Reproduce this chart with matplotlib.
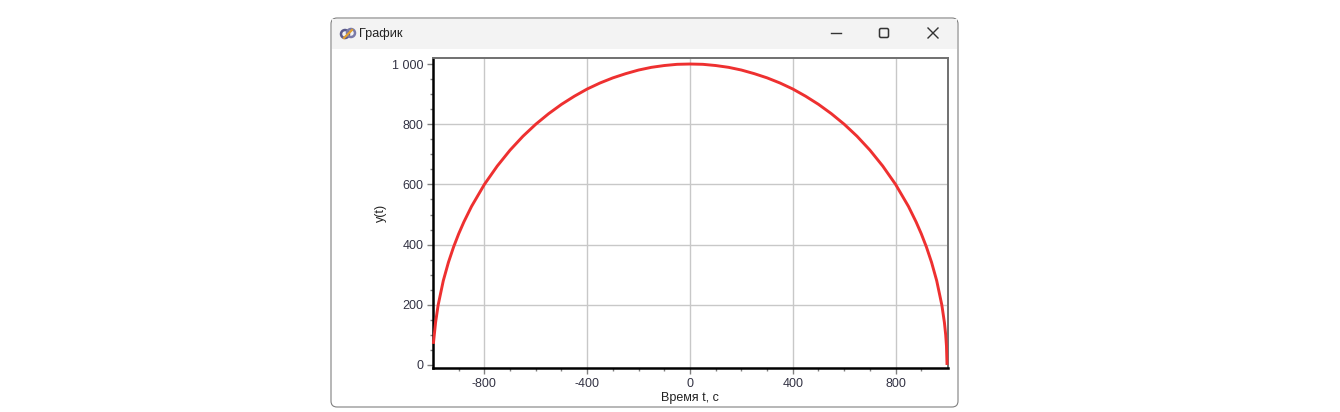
import matplotlib
matplotlib.use("Agg")
import matplotlib.pyplot as plt
from matplotlib.patches import FancyBboxPatch, Rectangle, Ellipse

plt.rcParams['font.family'] = ['Liberation Sans', 'DejaVu Sans']
plt.rcParams['axes.unicode_minus'] = False

W, H = 1340, 412

# values
t_vals = [-998, -995, -990, -980, -960, -940, -920, -900, -880, -850, -800, -750, -700,
          -650, -600, -550, -500, -450, -400, -350, -300, -250, -200, -150, -100, -50, 0,
          50, 100, 150, 200, 250, 300, 350, 400, 450, 500, 550, 600, 650, 700, 750, 800,
          850, 880, 900, 920, 940, 960, 980, 990, 995, 998, 1000]
y_vals = [75, 100, 141, 199, 280, 341, 392, 436, 475, 527, 600, 661, 714,
          760, 800, 835, 866, 893, 917, 937, 954, 968, 980, 989, 995, 999, 1000,
          999, 995, 989, 980, 968, 954, 937, 917, 893, 866, 835, 800, 760, 714, 661, 600,
          527, 475, 436, 392, 341, 280, 199, 141, 100, 63, 5]
x_ticks = [-800, -400, 0, 400, 800]
y_ticks = [0, 200, 400, 600, 800, 1000]
y_tick_labels = ['0', '200', '400', '600', '800', '1 000']
x_minor = [-900, -700, -600, -500, -300, -200, -100, 100, 200, 300, 500, 600, 700, 900]
y_minor = [50, 100, 150, 250, 300, 350, 450, 500, 550, 650, 700, 750, 850, 900, 950]

fig = plt.figure(figsize=(W / 100, H / 100), dpi=100, facecolor='white')

# window frame, in pixel coordinates
bg = fig.add_axes([0, 0, 1, 1])
bg.set_xlim(0, W)
bg.set_ylim(H, 0)
bg.axis('off')
bg.add_patch(FancyBboxPatch((331, 18), 627, 389, boxstyle='round,pad=0,rounding_size=6',
                            fc='white', ec='#808080', lw=0.8))
bg.add_patch(Rectangle((332, 19), 625, 30, fc='#f3f3f3', ec='none'))
bg.text(359, 34, 'График', fontsize=9.2, color='#222222', va='center', ha='left')

# icon
bg.add_patch(Ellipse((345, 34), 8, 8, fc='none', ec='#5a5a8c', lw=1.8))
bg.add_patch(Ellipse((351, 33), 8, 8, fc='none', ec='#7a7aa8', lw=1.8))
bg.plot([344, 352], [38, 30], color='#e0a030', lw=1.6)

# window buttons
bg.plot([831, 841], [33, 33], color='#333333', lw=1.0)
bg.add_patch(FancyBboxPatch((879.5, 28.5), 9, 9, boxstyle='round,pad=0,rounding_size=1.5',
                            fc='none', ec='#333333', lw=1.1))
bg.plot([928, 938], [28, 38], color='#333333', lw=1.0)
bg.plot([928, 938], [38, 28], color='#333333', lw=1.0)

# plot area
left, right, top, bottom = 433, 947.5, 58, 368
ax = fig.add_axes([left / W, 1 - bottom / H, (right - left) / W, (bottom - top) / H])
ax.set_xlim(-1000, 1002)
ax.set_ylim(-10, 1020)
ax.patch.set_alpha(0)

ax.grid(True, color='#c8c8c8', linewidth=1.0)
ax.set_axisbelow(True)
ax.plot(t_vals, y_vals, color='#ee3030', linewidth=2.1, clip_on=False, zorder=3)

ax.set_xticks(x_ticks)
ax.set_yticks(y_ticks)
ax.set_yticklabels(y_tick_labels)
ax.set_xticks(x_minor, minor=True)
ax.set_yticks(y_minor, minor=True)
ax.tick_params(axis='both', which='major', labelsize=9, labelcolor='#333344', color='#808080',
               length=4, width=1, pad=3)
ax.tick_params(axis='both', which='minor', color='#808080', length=2.5, width=1)

# no grid line at the two end ticks of y
ax.get_ygridlines()[0].set_visible(False)
ax.get_ygridlines()[-1].set_visible(False)

ax.spines['left'].set_color('black')
ax.spines['left'].set_linewidth(1.8)
ax.spines['bottom'].set_color('black')
ax.spines['bottom'].set_linewidth(1.8)
ax.spines['top'].set_color('#707070')
ax.spines['top'].set_linewidth(1.4)
ax.spines['right'].set_color('#707070')
ax.spines['right'].set_linewidth(1.4)

bg.text(689.5, 398, 'Время t, c', fontsize=9, color='#222222', ha='center', va='center')
bg.text(381, 213, 'y(t)', fontsize=9, color='#222222', ha='center', va='center', rotation=90)

fig.savefig('out.png', dpi=100)
